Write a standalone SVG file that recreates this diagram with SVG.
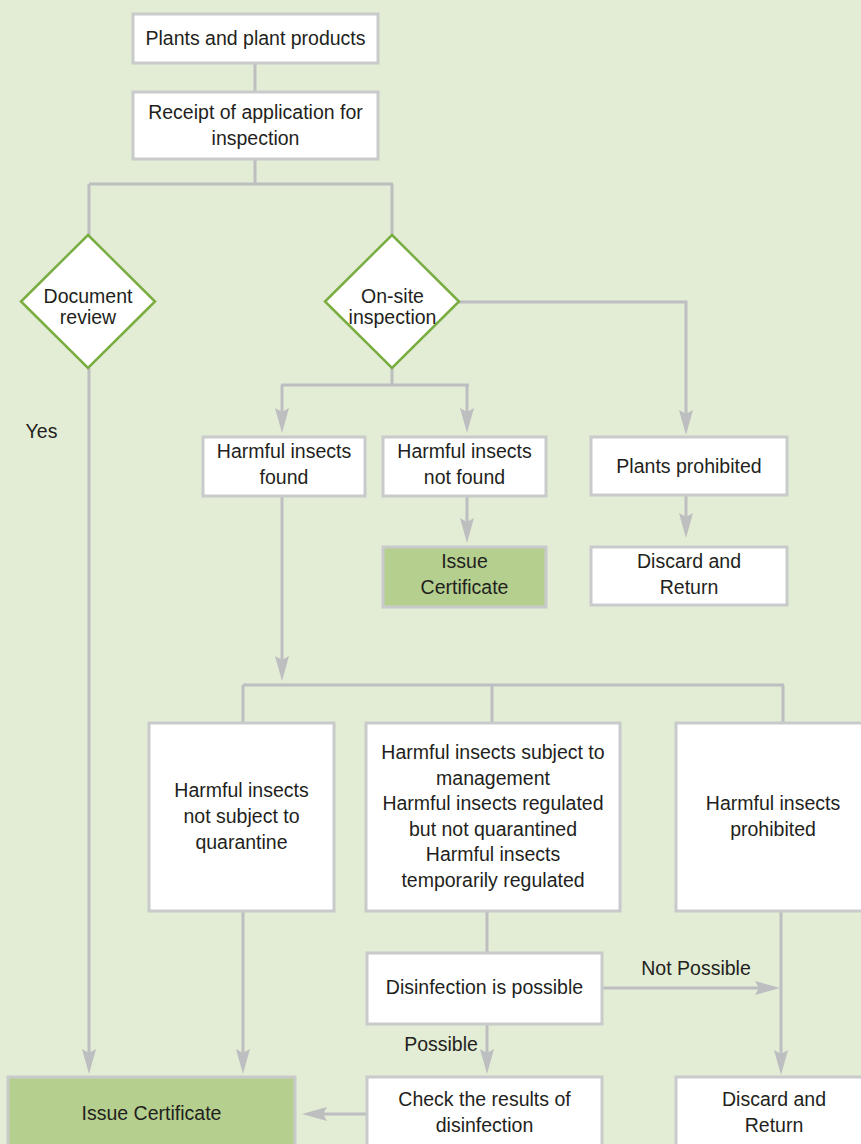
<svg xmlns="http://www.w3.org/2000/svg" width="861" height="1144" viewBox="0 0 861 1144">
<style>
.box{fill:#ffffff;stroke:#c9cacc;stroke-width:3}
.grn{fill:#b5cf8e;stroke:#c9cacc;stroke-width:3}
.dia{fill:#ffffff;stroke:#7aad41;stroke-width:2.5}
.t{font-family:"Liberation Sans",Arial,sans-serif;font-size:19.5px;fill:#231f20;text-anchor:middle}
.c{fill:none;stroke:#bcbec0;stroke-width:3}
.a{marker-end:url(#arr)}
</style>
<defs>
<marker id="arr" markerUnits="userSpaceOnUse" markerWidth="26" markerHeight="16" viewBox="0 0 26 16" refX="4" refY="8" orient="auto">
<path d="M0,1 L25,8 L0,15 L4,8 Z" fill="#bcbec0"/>
</marker>
</defs>
<rect width="861" height="1144" fill="#e3edd5"/>
<g id="connectors">
<path class="c" d="M255,64 V92"/>
<path class="c" d="M255,159 V184 M89,184 H393 M89,184 V235 M392,184 V235"/>
<path class="c a" d="M89,368 V1053"/>
<path class="c a" d="M459,302 H686 V414"/>
<path class="c" d="M392,368 V385 M281,385 H469"/>
<path class="c a" d="M282,385 V412"/>
<path class="c a" d="M467,385 V412"/>
<path class="c a" d="M467,496 V522"/>
<path class="c a" d="M686,495 V517"/>
<path class="c a" d="M282,496 V660"/>
<path class="c" d="M243,685 H784 M243,685 V723 M492,685 V723 M783,685 V723"/>
<path class="c a" d="M243,911 V1053"/>
<path class="c" d="M487,911 V953"/>
<path class="c a" d="M602,988 H759"/>
<path class="c a" d="M781,911 V1054"/>
<path class="c a" d="M487,1024 V1053"/>
<path class="c a" d="M367,1114 H323"/>
</g>
<g id="n1"><rect class="box" x="133" y="14" width="245" height="49"/><text class="t" x="255.5" y="45">Plants and plant products</text></g>
<g id="n2"><rect class="box" x="133" y="92" width="245" height="67"/><text class="t" x="255.5" y="119">Receipt of application for</text><text class="t" x="255.5" y="145">inspection</text></g>
<g id="n3"><polygon class="dia" points="88,235 155,301.5 88,368 21,301.5"/><text class="t" x="88" y="303">Document</text><text class="t" x="88" y="324">review</text></g>
<g id="n4"><polygon class="dia" points="392,235 459,301.5 392,368 325,301.5"/><text class="t" x="392.5" y="303">On-site</text><text class="t" x="392.5" y="324">inspection</text></g>
<g id="yes"><text class="t" x="41.5" y="438">Yes</text></g>
<g id="n5"><rect class="box" x="203" y="437" width="162" height="59"/><text class="t" x="284" y="458">Harmful insects</text><text class="t" x="284" y="484">found</text></g>
<g id="n6"><rect class="box" x="383" y="437" width="163" height="59"/><text class="t" x="464.5" y="458">Harmful insects</text><text class="t" x="464.5" y="484">not found</text></g>
<g id="n7"><rect class="grn" x="383" y="547" width="163" height="60"/><text class="t" x="464.5" y="568">Issue</text><text class="t" x="464.5" y="594">Certificate</text></g>
<g id="n8"><rect class="box" x="591" y="437" width="196" height="58"/><text class="t" x="689" y="473">Plants prohibited</text></g>
<g id="n9"><rect class="box" x="591" y="547" width="196" height="58"/><text class="t" x="689" y="568">Discard and</text><text class="t" x="689" y="594">Return</text></g>
<g id="n10"><rect class="box" x="149" y="723" width="185" height="188"/><text class="t" x="241.5" y="797">Harmful insects</text><text class="t" x="241.5" y="823">not subject to</text><text class="t" x="241.5" y="849">quarantine</text></g>
<g id="n11"><rect class="box" x="366" y="723" width="254" height="188"/><text class="t" x="493" y="759">Harmful insects subject to</text><text class="t" x="493" y="785">management</text><text class="t" x="493" y="810">Harmful insects regulated</text><text class="t" x="493" y="836">but not quarantined</text><text class="t" x="493" y="861">Harmful insects</text><text class="t" x="493" y="887">temporarily regulated</text></g>
<g id="n12"><rect class="box" x="676" y="723" width="194" height="188"/><text class="t" x="773" y="810">Harmful insects</text><text class="t" x="773" y="836">prohibited</text></g>
<g id="n13"><rect class="box" x="367" y="953" width="235" height="71"/><text class="t" x="484.5" y="994">Disinfection is possible</text></g>
<g id="lbl1"><text class="t" x="696" y="975">Not Possible</text></g>
<g id="lbl2"><text class="t" x="441" y="1051">Possible</text></g>
<g id="n14"><rect class="box" x="367" y="1077" width="235" height="80"/><text class="t" x="484.5" y="1106">Check the results of</text><text class="t" x="484.5" y="1132">disinfection</text></g>
<g id="n15"><rect class="box" x="676" y="1077" width="194" height="80"/><text class="t" x="774" y="1106">Discard and</text><text class="t" x="774" y="1132">Return</text></g>
<g id="n16"><rect class="grn" x="8" y="1077" width="287" height="80"/><text class="t" x="151.5" y="1120">Issue Certificate</text></g>
</svg>
